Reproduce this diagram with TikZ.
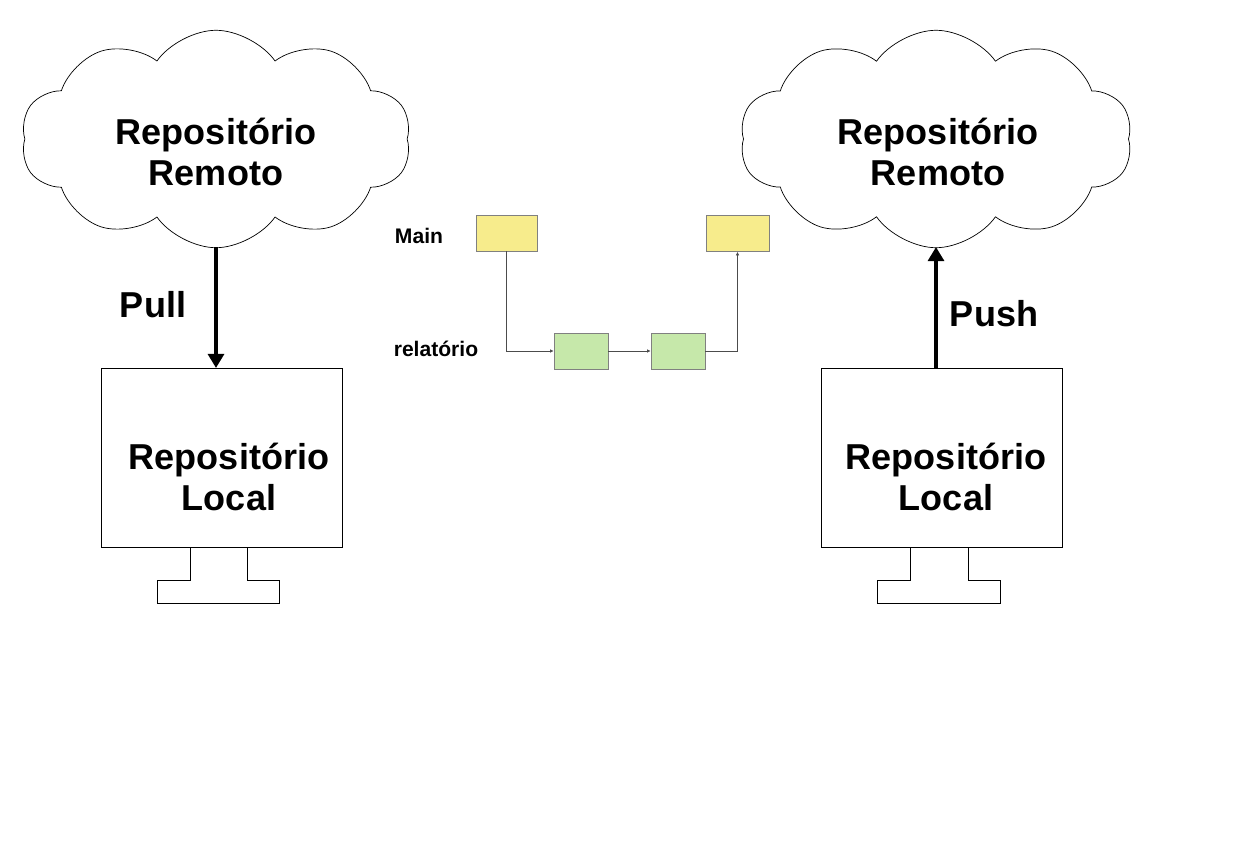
\documentclass[tikz,border=0pt]{standalone}
\usepackage{fontspec}
\setmainfont{Liberation Sans}
\usetikzlibrary{shapes.symbols,arrows.meta}
\definecolor{amarelo}{HTML}{F7EC8C}
\definecolor{verde}{HTML}{C6E8AA}
\begin{document}
\begin{tikzpicture}[
    x = 0.02cm, y = -0.02cm,
    big/.style = {font = \fontsize{20.5}{23}\bfseries, align = center},
    small/.style = {font = \fontsize{12}{14}\bfseries},
    nuvem/.style = {draw, cloud, cloud puffs = 10, cloud puff arc = 110, aspect = 1.8,
        inner sep = 0pt},
    commit/.style = {draw = gray, inner sep = 0pt, minimum height = 0.72cm},
    fio/.style = {draw = gray!80, -{Latex[length=2pt, width=2pt]}, black!70}]
\useasboundingbox (0,0) rectangle (1235,848);

% lado esquerdo
\node[nuvem, minimum width = 7.8cm, minimum height = 4.35cm] (remA) at (216,139) {};
\node[big] (txtA) at (216,152) {Repositório\\Remoto};
\coordinate (baseA) at (216,247);
\draw (101,368) rectangle (342,547);
\coordinate (locA) at (216,368);
\node[big] (txtLA) at (229,477) {Repositório\\Local};
\draw (190,547) -- (190,580) -- (157,580) -- (157,603) -- (279,603) -- (279,580) -- (247,580) -- (247,547);
\draw[line width = 2.2pt, -{Triangle[length=8pt, width=9pt]}] (baseA) -- (locA);
\node[big] (pull) at (153,305) {Pull};

% lado direito
\node[nuvem, minimum width = 7.85cm, minimum height = 4.35cm] (remB) at (936,139) {};
\node[big] (txtB) at (938,152) {Repositório\\Remoto};
\coordinate (baseB) at (936,247);
\draw (821,368) rectangle (1062,547);
\coordinate (locB) at (936,368);
\node[big] (txtLB) at (946,477) {Repositório\\Local};
\draw (910,547) -- (910,580) -- (877,580) -- (877,603) -- (1000,603) -- (1000,580) -- (968,580) -- (968,547);
\draw[line width = 2.2pt, -{Triangle[length=8pt, width=9pt]}] (locB) -- (baseB);
\node[big] (push) at (994,314) {Push};

% branches
\node[small] (lmain) at (419,236) {Main};
\node[small] (lrel) at (436,349) {relatório};
\node[commit, fill = amarelo, minimum width = 1.22cm] (m1) at (506.5,233) {};
\node[commit, fill = amarelo, minimum width = 1.26cm] (m2) at (737.5,233.5) {};
\node[commit, fill = verde, minimum width = 1.08cm] (r1) at (581,351) {};
\node[commit, fill = verde, minimum width = 1.08cm] (r2) at (678,351) {};
\draw[fio] (m1.south) |- (r1.west);
\draw[fio] (r1) -- (r2);
\draw[fio] (r2.east) -| (m2.south);
\end{tikzpicture}
\end{document}
